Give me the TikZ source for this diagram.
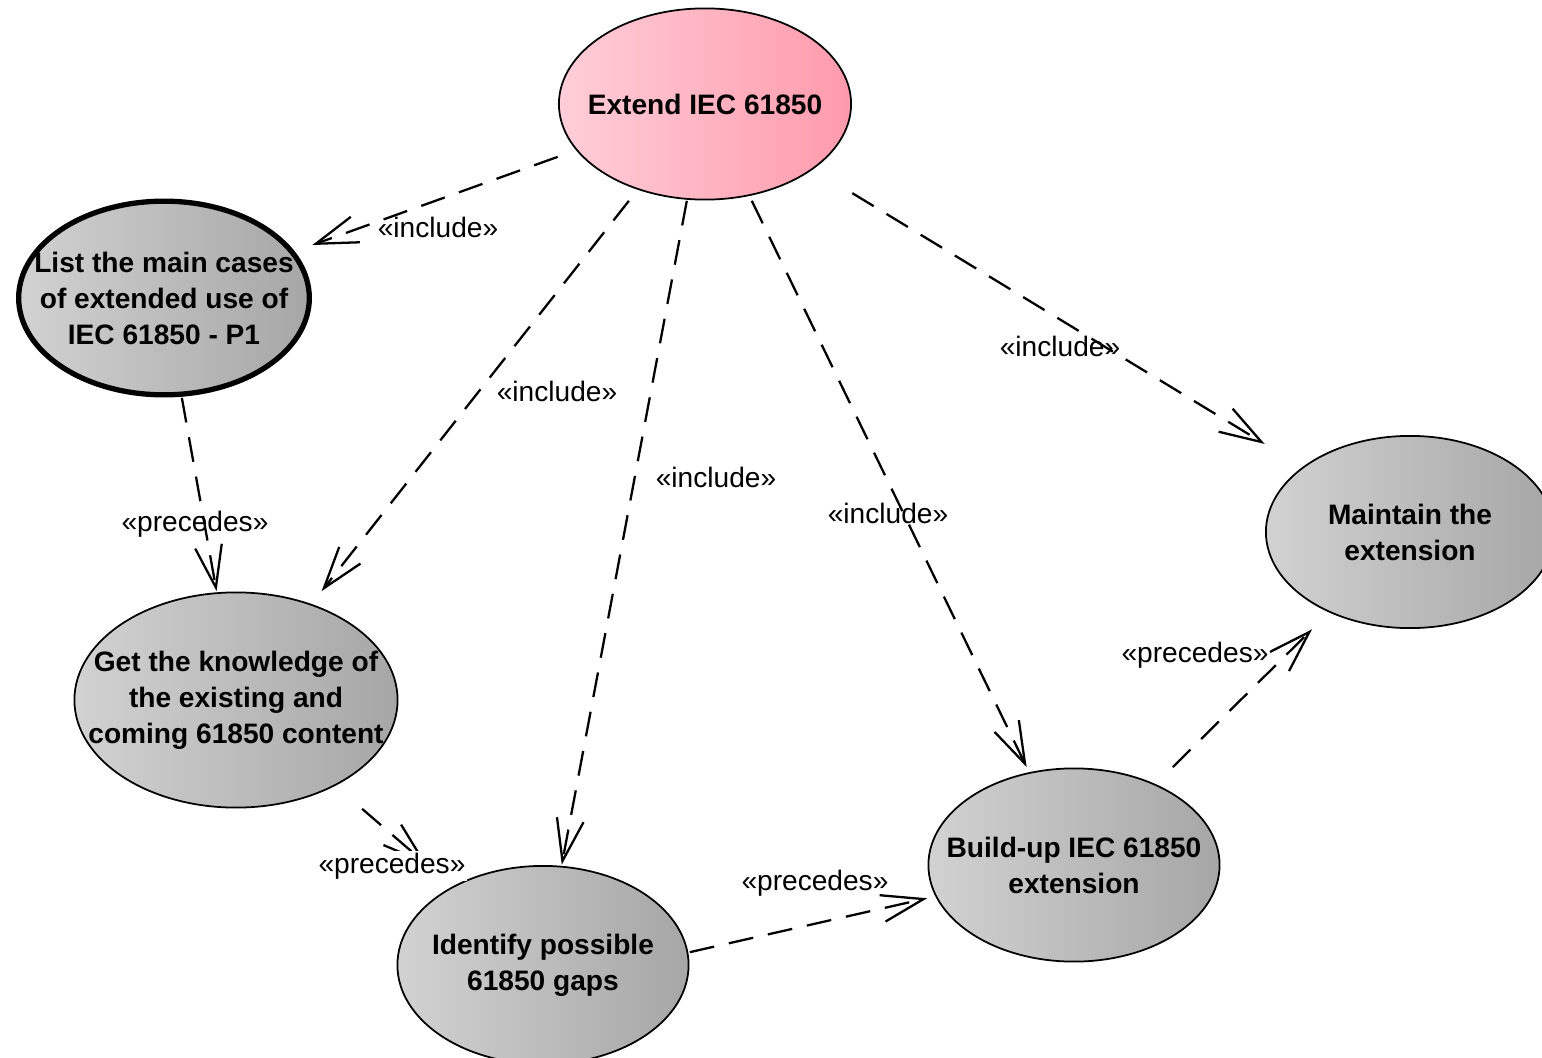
\documentclass[tikz,border=0pt]{standalone}
\usepackage{fontspec}
\setmainfont{Liberation Sans}
\usetikzlibrary{arrows.meta,calc}
\definecolor{caselight}{RGB}{210,210,210}
\definecolor{casedark}{RGB}{166,166,166}
\definecolor{rootlight}{RGB}{255,206,216}
\definecolor{rootdark}{RGB}{255,154,172}

\tikzset{rim/.store in=\caserim, rim=1pt,
  shadeleft/.store in=\caseleft, shadeleft=caselight,
  shaderight/.store in=\caseright, shaderight=casedark}

\begin{document}
\begin{tikzpicture}[x=0.02cm,y=-0.02cm,
  usecase/.style={rectangle,inner sep=0pt,align=center,
    font=\fontsize{16}{20.5}\selectfont\bfseries,
    path picture={
      \shadedraw[left color=\caseleft,right color=\caseright,draw=black,line width=\caserim]
        let \p1=(path picture bounding box.north east),
            \p2=(path picture bounding box.center) in
        (\p2) ellipse [x radius={abs(\x1-\x2)-0.5*\caserim},
                       y radius={abs(\y1-\y2)-0.5*\caserim}];
    }},
  tag/.style={font=\fontsize{16}{20}\selectfont,inner sep=1pt},
  dep/.style={draw,line width=1.3pt,dash pattern=on 0.5cm off 0.3cm,
    -{Straight Barb[length=0.84cm,width=0.54cm]}}]
\useasboundingbox (0,0) rectangle (1542,1058);

\node[usecase,shadeleft=rootlight,shaderight=rootdark,minimum width=5.88cm,minimum height=3.86cm]
  (extend) at (705,104) {Extend IEC 61850};
\node[usecase,rim=3pt,minimum width=5.92cm,minimum height=3.98cm]
  (list) at (164,298) {List the main cases\\of extended use of\\IEC 61850 - P1};
\node[usecase,minimum width=6.5cm,minimum height=4.34cm]
  (know) at (236,700) {Get the knowledge of\\the existing and\\coming 61850 content};
\node[usecase,minimum width=5.86cm,minimum height=4.0cm]
  (gaps) at (543,965) {Identify possible\\61850 gaps};
\node[usecase,minimum width=5.86cm,minimum height=3.9cm]
  (build) at (1074,865) {Build-up IEC 61850\\extension};
\node[usecase,minimum width=5.8cm,minimum height=3.88cm]
  (maintain) at (1410,532) {Maintain the\\extension};

\path   (extend) edge [dep]  (list)
                 edge [dep]  (know)
                 edge [dep]  (gaps)
                 edge [dep]  (build)
                 edge [dep]  (maintain)
        (list)   edge [dep]  (know)
        (know)   edge [dep]  (gaps)
        (gaps.5) edge [dep]  (build)
        (build)  edge [dep]  (maintain);

\node[tag] (inc1) at (438,227) {«include»};
\node[tag] (inc2) at (557,391) {«include»};
\node[tag] (inc3) at (716,477) {«include»};
\node[tag] (inc4) at (888,513) {«include»};
\node[tag] (inc5) at (1060,346) {«include»};
\node[tag] (pre1) at (195,524) {«precedes»};
\node[tag,fill=white] (pre2) at (392,866) {«precedes»};
\node[tag] (pre3) at (815,883) {«precedes»};
\node[tag] (pre4) at (1195,655) {«precedes»};
\end{tikzpicture}
\end{document}
